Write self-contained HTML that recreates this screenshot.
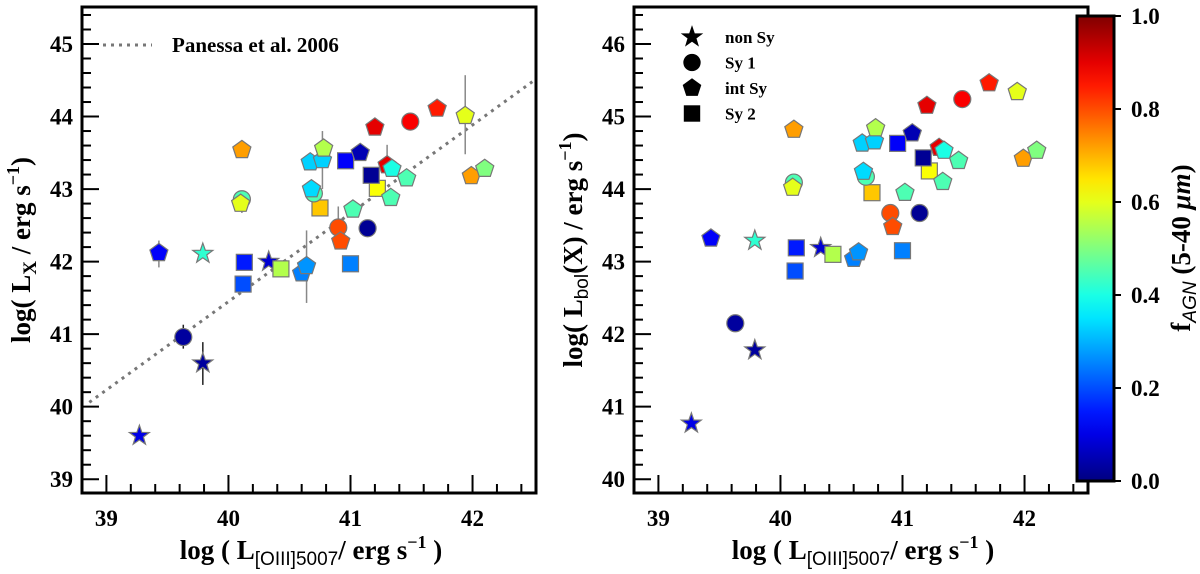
<!DOCTYPE html>
<html><head><meta charset="utf-8"><style>
html,body{margin:0;padding:0;background:#fff;}
svg{display:block;}
svg text{font-family:"Liberation Serif",serif;font-weight:bold;}
</style></head><body>
<svg id="fig" width="1200" height="574" viewBox="0 0 1200 574" xmlns="http://www.w3.org/2000/svg" font-family="Liberation Serif, serif" font-weight="bold">
<defs>
<linearGradient id="jet" x1="0" y1="1" x2="0" y2="0"></linearGradient>
</defs>
<g id="left"></g>
<g id="right"></g>
<g id="cbar"></g>
</svg>
<script>
// shared per-source data
const shapes = ['star','star','star','star','circle','pent','square','square','square','pent','pent','square','circle','pent','circle','pent','square','square','pent','square','pent','pent','pent','circle','pent','pent','circle','pent','pent','pent','pent','square','pent','pent','circle','pent','pent','pent','pent'];
const fagn = [0.1,0.03,0.42,0.08,0.03,0.12,0.15,0.2,0.55,0.25,0.27,0.25,0.8,0.8,0.02,0.45,0.68,0.62,0.45,0.02,0.9,0.4,0.45,0.45,0.6,0.72,0.45,0.34,0.33,0.33,0.55,0.12,0.05,0.9,0.88,0.85,0.6,0.72,0.5];
const xOIII = [39.27,39.79,39.79,40.33,39.63,39.43,40.13,40.12,40.43,40.60,40.64,41.0,40.90,40.92,41.14,41.02,40.75,41.22,41.33,41.17,41.30,41.34,41.46,40.11,40.10,40.11,40.70,40.68,40.67,40.77,40.78,40.96,41.08,41.20,41.49,41.71,41.94,41.99,42.10];
const yLX = [39.60,40.60,42.11,42.0,40.96,42.12,41.99,41.69,41.90,41.84,41.94,41.97,42.47,42.28,42.46,42.72,42.74,43.01,42.88,43.19,43.33,43.28,43.15,42.86,42.80,43.54,42.94,43.00,43.37,43.40,43.56,43.39,43.50,43.85,43.93,44.11,44.01,43.18,43.28];
const errLo = [0,0.30,0,0.05,0.16,0.2,0,0,0,0,0.51,0,0,0.1,0,0,0,0,0,0,0,0,0,0.19,0.1,0,0,0,0,0.40,0,0,0,0,0,0,0.53,0,0];
const errHi = [0,0.29,0,0.05,0.17,0.17,0,0,0,0,0.49,0,0.29,0,0,0,0,0,0,0,0.28,0,0,0,0,0,0,0,0,0.40,0,0,0,0,0,0,0.56,0,0];
const yLbol = [40.77,41.78,43.29,43.19,42.15,43.32,43.19,42.87,43.10,43.04,43.13,43.15,43.67,43.48,43.67,43.95,43.95,44.25,44.10,44.43,44.57,44.53,44.39,44.09,44.02,44.82,44.17,44.24,44.63,44.66,44.84,44.63,44.77,45.15,45.24,45.46,45.34,44.42,44.53];
const fitX = [38.86, 42.49];
const fitY = [40.06, 44.48];
const xTicks = [39,40,41,42];
const yTicksL = [39,40,41,42,43,44,45];
const yTicksR = [40,41,42,43,44,45,46];
const cbTicks = [0.0,0.2,0.4,0.6,0.8,1.0];
const legendLabels = ['non Sy','Sy 1','int Sy','Sy 2'];
const legendShapes = ['star','circle','pent','square'];

const NS='http://www.w3.org/2000/svg';
function mk(tag, parent, attrs){const e=document.createElementNS(NS,tag);for(const k in attrs)e.setAttribute(k,attrs[k]);parent.appendChild(e);return e;}
function txt(parent, attrs){attrs['font-family']='Liberation Serif, serif';attrs['font-weight']='bold';return mk('text',parent,attrs);}
function jet(v){v=Math.max(0,Math.min(1,v));
 const r=Math.max(0,Math.min(1,Math.min(4*v-1.5,-4*v+4.5)));
 const g=Math.max(0,Math.min(1,Math.min(4*v-0.5,-4*v+3.5)));
 const b=Math.max(0,Math.min(1,Math.min(4*v+0.5,-4*v+2.5)));
 return 'rgb('+Math.round(r*255)+','+Math.round(g*255)+','+Math.round(b*255)+')';}
function marker(g,shape,cx,cy,fill,scale){
 scale=scale||1;let e;
 if(shape==='circle'){e=mk('circle',g,{cx:cx,cy:cy,r:8.5*scale});}
 else if(shape==='square'){const s=16*scale;e=mk('rect',g,{x:cx-s/2,y:cy-s/2,width:s,height:s});}
 else if(shape==='pent'){const R=9.5*scale;let p=[];for(let i=0;i<5;i++){const a=-Math.PI/2+i*2*Math.PI/5;p.push((cx+R*Math.cos(a)).toFixed(1)+','+(cy+R*Math.sin(a)).toFixed(1));}e=mk('polygon',g,{points:p.join(' ')});}
 else {const R=10.5*scale,r=4.2*scale;let p=[];for(let i=0;i<10;i++){const a=-Math.PI/2+i*Math.PI/5;const rr=i%2?r:R;p.push((cx+rr*Math.cos(a)).toFixed(1)+','+(cy+rr*Math.sin(a)).toFixed(1));}e=mk('polygon',g,{points:p.join(' ')});}
 e.setAttribute('fill',fill);e.setAttribute('stroke',fill==='#000'?'#000':'#777');e.setAttribute('stroke-width','1.2');
 return e;}

function panel(gid, X0, X1, Y0, Y1, ymin, ymax, ys, yTicks, ylabel, withErr, withFit, legendKind){
 const g=document.getElementById(gid);
 const xmin=38.8,xmax=42.52;
 const sx=v=>X0+(v-xmin)/(xmax-xmin)*(X1-X0);
 const sy=v=>Y1-(v-ymin)/(ymax-ymin)*(Y1-Y0);
 for(let v=38.8;v<=42.5;v+=0.2){const vv=Math.round(v*10)/10;const major=Math.abs(vv-Math.round(vv))<1e-6;const x=sx(vv);
  const t=mk('line',g,{x1:x,x2:x,y1:Y1,y2:Y1-(major?18:9),stroke:'#000','stroke-width':2});
  }
 xTicks.forEach(v=>{const t=txt(g,{x:sx(v),y:Y1+33,'text-anchor':'middle','font-size':23});t.textContent=v;
  });
 for(let v=Math.ceil(ymin*5)/5;v<=ymax;v+=0.2){const vv=Math.round(v*10)/10;const major=Math.abs(vv-Math.round(vv))<1e-6;const y=sy(vv);
  const t=mk('line',g,{x1:X0,x2:X0+(major?17:9),y1:y,y2:y,stroke:'#000','stroke-width':2});
  }
 yTicks.forEach(v=>{const t=txt(g,{x:X0-9,y:sy(v)+8,'text-anchor':'end','font-size':23});t.textContent=v;
  });
 if(withFit){const l=mk('line',g,{x1:sx(fitX[0]),y1:sy(fitY[0]),x2:sx(fitX[1]),y2:sy(fitY[1]),stroke:'#777','stroke-width':3,'stroke-dasharray':'3 5'});
  }
 if(withErr){xOIII.forEach((x,i)=>{if(errLo[i]||errHi[i]){const e=mk('line',g,{x1:sx(x),x2:sx(x),y1:sy(ys[i]-errLo[i]),y2:sy(ys[i]+errHi[i]),stroke:(fagn[i]<0.06?'#222':'#888'),'stroke-width':1.5});
  }});}
 xOIII.forEach((x,i)=>{const m=marker(g,shapes[i],sx(x),sy(ys[i]),jet(fagn[i]));
  });
 const f=mk('rect',g,{x:X0,y:Y0,width:X1-X0,height:Y1-Y0,fill:'none',stroke:'#000','stroke-width':3});
 
 const xl=txt(g,{x:(X0+X1)/2+2,y:559,'text-anchor':'middle','font-size':27});
 xl.innerHTML='log ( L<tspan font-size="19" font-family="Liberation Sans, sans-serif" font-weight="normal" dy="6">[OIII]5007</tspan><tspan dy="-6">/ erg s</tspan><tspan font-size="18" dy="-11">−1</tspan><tspan dy="11"> )</tspan>';
 
 const yl=txt(g,{x:0,y:0,'text-anchor':'middle','font-size':27,transform:'translate('+(X0-52)+','+((Y0+Y1)/2)+') rotate(-90)'});
 yl.innerHTML=ylabel;
 
 if(legendKind==='fit'){const l=mk('line',g,{x1:103,x2:152,y1:45,y2:45,stroke:'#777','stroke-width':3,'stroke-dasharray':'3 5'});
  
  const t=txt(g,{x:172,y:52,'font-size':21});t.textContent='Panessa et al. 2006';
  }
 if(legendKind==='shapes'){legendLabels.forEach((lab,i)=>{const y=37+i*25.5;
  const m=marker(g,legendShapes[i],692,y,'#000',0.95);
  
  const t=txt(g,{x:725,y:y+6,'font-size':17});t.textContent=lab;
  });}
}
panel('left',82,536,7,493,38.81,45.51,yLX,yTicksL,'log( L<tspan font-size="19" dy="6">X</tspan><tspan dy="-6"> / erg s</tspan><tspan font-size="18" dy="-11">−1</tspan><tspan dy="11">)</tspan>',true,true,'fit');
panel('right',634,1088,7,493,39.81,46.51,yLbol,yTicksR,'log( L<tspan font-size="19" font-family="Liberation Sans, sans-serif" font-weight="normal" dy="6">bol</tspan><tspan dy="-6">(X) / erg s</tspan><tspan font-size="18" dy="-11">−1</tspan><tspan dy="11">)</tspan>',false,false,'shapes');

const grad=document.getElementById('jet');
for(let i=0;i<=20;i++){mk('stop',grad,{offset:(i/20),'stop-color':jet(i/20)});}
const cb=document.getElementById('cbar');
const CB0=16,CB1=481,CX0=1077,CX1=1114;
const cr=mk('rect',cb,{x:CX0,y:CB0,width:CX1-CX0,height:CB1-CB0,fill:'url(#jet)',stroke:'#000','stroke-width':3});

const cy=v=>CB1-v*(CB1-CB0);
cbTicks.forEach(v=>{const t=mk('line',cb,{x1:CX1,x2:CX1+7,y1:cy(v),y2:cy(v),stroke:'#000','stroke-width':2});
 
 const l=txt(cb,{x:1131,y:cy(v)+8,'font-size':23});l.textContent=v.toFixed(1);
 });
const cl=txt(cb,{x:0,y:0,'text-anchor':'middle','font-size':27,transform:'translate(1190,248) rotate(-90)'});
cl.innerHTML='f<tspan font-size="19" font-family="Liberation Sans, sans-serif" font-style="italic" font-weight="normal" dy="6">AGN</tspan><tspan dy="-6"> (5-40 </tspan><tspan font-style="italic">μm</tspan>)';

</script>
</body></html>
